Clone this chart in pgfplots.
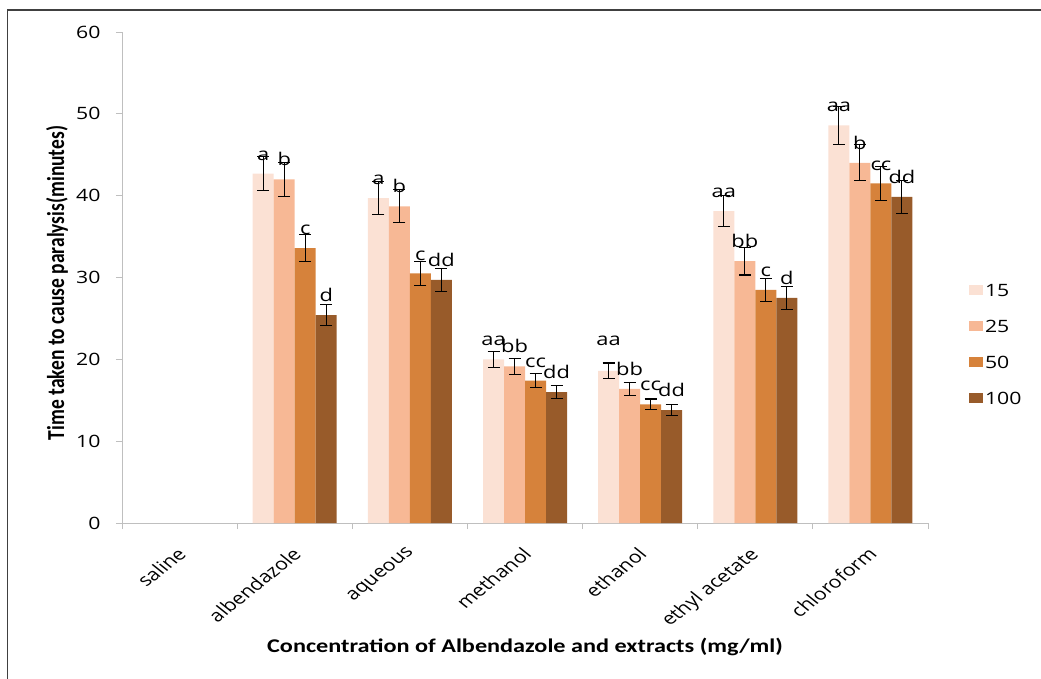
\documentclass[border=0pt]{standalone}
\usepackage{fontspec}
\setmainfont{Open Sans}[FakeStretch=1.25]
\newfontfamily\plainsans{Open Sans}
\newfontfamily\titlefont{Carlito}[FakeStretch=1.25]
\newfontfamily\plaintitle{Carlito}
\usepackage{graphicx}
\usepackage{pgfplots}
\pgfplotsset{compat=1.18}

\definecolor{cA}{HTML}{FBE1D4}
\definecolor{cB}{HTML}{F7B895}
\definecolor{cC}{HTML}{D6823B}
\definecolor{cD}{HTML}{985B2A}
\definecolor{axgray}{HTML}{BFBFBF}
\definecolor{framegray}{HTML}{404040}

% slanted category name, widened like the rest of the chart text
\newcommand{\cat}[1]{\scalebox{1.25}[1]{\rotatebox{45}{\plainsans\fontsize{17}{17}\selectfont #1}}}

\pgfplotsset{
  grpbar/.style={
    draw=none,
    error bars/.cd, y dir=both, y explicit,
      error bar style={line width=1.1pt, black},
      error mark options={rotate=90, mark size=6pt, line width=1.1pt, black},
    /pgfplots/.cd,
    nodes near coords, point meta=explicit symbolic,
    every node near coord/.append style={anchor=south, inner sep=0pt, yshift=13pt,
      font=\fontsize{17.5}{17.5}\selectfont, text=black},
    legend image code/.code={\fill[##1] (0pt,-5pt) rectangle (14pt,5pt);},
  },
}

\begin{document}
\begin{tikzpicture}
\useasboundingbox (0pt,0pt) rectangle (1041pt,-679pt);
\draw[framegray, line width=1.5pt] (7.5pt,-690pt) -- (7.5pt,-10pt) -- (1050pt,-10pt);
\begin{axis}[
  at={(122pt,-523pt)}, anchor=south west,
  scale only axis, width=806pt, height=491pt,
  ybar=0pt, bar width=21pt,
  xmin=-0.5, xmax=6.5, ymin=0, ymax=60,
  axis x line*=bottom, axis y line*=left,
  axis line style={axgray, line width=1pt, -},
  tick align=outside, major tick length=6pt, minor tick length=6pt,
  every tick/.style={axgray, line width=1pt},
  ytick={0,10,...,60},
  xtick={0,...,6},
  minor xtick={-0.5,0.5,...,6.5},
  major x tick style={draw=none},
  xticklabels={\cat{saline}, \cat{albendazole}, \cat{aqueous}, \cat{methanol},
    \cat{ethanol}, \cat{ethyl acetate}, \cat{chloroform}},
  x tick label style={anchor=north east, inner sep=0pt, xshift=8pt, yshift=-17pt},
  y tick label style={font=\fontsize{17}{17}\selectfont, xshift=-12pt},
  /pgf/number format/assume math mode=true,
  xlabel={Concentration of Albendazole and extracts (mg/ml)},
  ylabel={Time taken to cause paralysis(minutes)},
  every axis x label/.style={at={(axis description cs:0.5,-0.2525)}, anchor=center,
    font=\titlefont\bfseries\fontsize{19.4}{19.4}\selectfont},
  every axis y label/.style={at={(axis description cs:-0.0806,0.4888)}, anchor=center,
    xscale=1.25, rotate=90,
    font=\plaintitle\bfseries\fontsize{19.5}{19.5}\selectfont},
  legend style={at={(axis description cs:1.047,0.4949)}, anchor=north west, draw=none, fill=none,
    font=\fontsize{17}{17}\selectfont, row sep=20pt,
    nodes={inner sep=2pt, text height=12pt, text depth=0pt}},
  legend cell align=left,
  clip=false,
]
% saline control: all four concentrations gave 0 min, so no bars appear
\addplot[grpbar, fill=cA] table[x=x, y=y, y error=e, meta=lab] {
x y e lab
1 42.7 2.1 a
2 39.7 2.0 a
3 20.0 1.0 aa
4 18.6 0.95 \raisebox{12pt}{aa}
5 38.1 1.9 aa
6 48.6 2.35 aa
};
\addlegendentry{15}
\addplot[grpbar, fill=cB] table[x=x, y=y, y error=e, meta=lab] {
x y e lab
1 42.0 2.1 b
2 38.7 2.0 b
3 19.15 1.0 bb
4 16.4 0.8 bb
5 32.0 1.7 bb
6 44.0 2.2 b
};
\addlegendentry{25}
\addplot[grpbar, fill=cC] table[x=x, y=y, y error=e, meta=lab] {
x y e lab
1 33.6 1.65 c
2 30.5 1.5 c
3 17.4 0.85 cc
4 14.5 0.65 cc
5 28.5 1.4 c
6 41.5 2.1 cc
};
\addlegendentry{50}
\addplot[grpbar, fill=cD] table[x=x, y=y, y error=e, meta=lab] {
x y e lab
1 25.4 1.25 d
2 29.7 1.45 dd
3 16.0 0.8 dd
4 13.8 0.7 dd
5 27.5 1.4 d
6 39.85 2.0 dd
};
\addlegendentry{100}
\end{axis}
\end{tikzpicture}
\end{document}
